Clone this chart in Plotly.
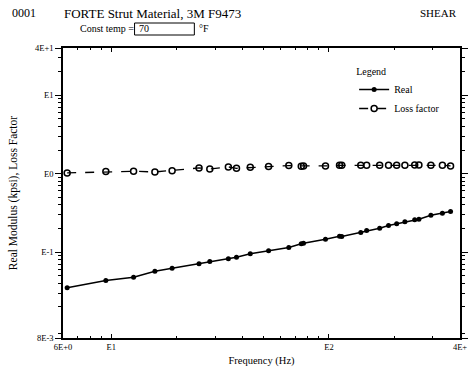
import plotly.graph_objects as go

# ---- data ----
freq_hz = [6.27, 9.44, 12.66, 15.86, 19.03, 25.3, 28.35, 34.5, 37.6, 43.5, 52.8, 65.4,
           74.6, 76.4, 96.4, 111.8, 114.5, 140.0, 149.0, 171.0, 187.8, 204.7, 223.3,
           247.7, 259.0, 294.0, 332.0, 362.0]
real_modulus = [0.0350, 0.0433, 0.0477, 0.0569, 0.0622, 0.0707, 0.0757, 0.0819, 0.0859,
                0.0949, 0.1036, 0.1141, 0.1272, 0.1295, 0.1456, 0.1590, 0.1576, 0.1772,
                0.1878, 0.2010, 0.2176, 0.2287, 0.2425, 0.2571, 0.2617, 0.2943, 0.3121,
                0.3281]
loss_factor = [1.02, 1.06, 1.07, 1.05, 1.09, 1.18, 1.148, 1.217, 1.168, 1.203, 1.228,
               1.264, 1.239, 1.254, 1.254, 1.276, 1.276, 1.276, 1.276, 1.276, 1.276, 1.276,
               1.276, 1.291, 1.291, 1.276, 1.276, 1.254]

x_tickvals = [6, 10, 100, 400]
x_ticktext = ["6E+0", "E1", "E2", "4E+"]
x_minor = [7, 8, 9, 20, 30, 40, 50, 60, 70, 80, 90, 200, 300]
y_tickvals = [0.008, 0.1, 1, 10, 40]
y_ticktext = ["8E-3", "E-1", "E0", "E1", "4E+1"]
y_minor = [0.009, 0.02, 0.03, 0.04, 0.05, 0.06, 0.07, 0.08, 0.09,
           0.2, 0.3, 0.4, 0.5, 0.6, 0.7, 0.8, 0.9,
           2, 3, 4, 5, 6, 7, 8, 9, 20, 30]

W, H = 473, 373
L, R, T, B = 63, 5, 48, 35
PW, PH = W - L - R, H - T - B


def px(x):
    return (x - L) / PW


def py(y):
    return (H - B - y) / PH


FONT = "Liberation Serif"

fig = go.Figure()
fig.add_trace(go.Scatter(
    x=freq_hz, y=real_modulus, name="Real", mode="lines+markers",
    line=dict(color="black", width=1.5),
    marker=dict(symbol="circle", size=5, color="black"),
))
fig.add_trace(go.Scatter(
    x=freq_hz, y=loss_factor, name="Loss factor", mode="lines+markers",
    line=dict(color="black", width=1.3, dash="dash"),
    marker=dict(symbol="circle-open", size=6, color="black", line=dict(width=1.5)),
))

axis_common = dict(showgrid=False, zeroline=False, showline=True, linecolor="black",
                   linewidth=1.5, mirror="ticks", tickcolor="black", tickwidth=1,
                   tickfont=dict(family=FONT, size=8.5, color="black"))

fig.update_xaxes(type="log", range=[0.77815, 2.60206], tickmode="array",
                 tickvals=x_tickvals, ticktext=x_ticktext, ticks="inside", ticklen=4,
                 minor=dict(tickmode="array", tickvals=x_minor, ticks="inside",
                            ticklen=2, tickcolor="black", showgrid=False),
                 title=dict(text="Frequency (Hz)", font=dict(family=FONT, size=10.5, color="black"),
                            standoff=6),
                 **axis_common)
fig.update_yaxes(type="log", range=[-2.09691, 1.60206], tickmode="array",
                 tickvals=y_tickvals, ticktext=y_ticktext, ticks="outside", ticklen=6,
                 minor=dict(tickmode="array", tickvals=y_minor, ticks="outside",
                            ticklen=3, tickcolor="black", showgrid=False),
                 title=dict(text="Real Modulus (kpsi), Loss Factor",
                            font=dict(family=FONT, size=11.5, color="black"), standoff=15),
                 **axis_common)

annotations = [
    dict(x=px(9), y=py(13), text="0001", xanchor="left", size=12),
    dict(x=px(62), y=py(13), text="FORTE Strut Material, 3M F9473", xanchor="left", size=13),
    dict(x=px(467), y=py(13), text="SHEAR", xanchor="right", size=11),
    dict(x=px(78), y=py(29), text="Const temp =", xanchor="left", size=10),
    dict(x=px(138), y=py(29), text="70", xanchor="left", size=10),
    dict(x=px(200), y=py(29), text="°F", xanchor="left", size=10),
]
for a in annotations:
    s = a.pop("size")
    a.update(xref="paper", yref="paper", yanchor="middle", showarrow=False,
             font=dict(family=FONT, size=s, color="black"))
fig.update_layout(annotations=annotations)
fig.add_shape(type="rect", xref="paper", yref="paper",
              x0=px(136), x1=px(197), y0=py(35), y1=py(23),
              line=dict(color="black", width=1))

fig.update_layout(
    width=W, height=H,
    margin=dict(l=L, r=R, t=T, b=B),
    paper_bgcolor="white", plot_bgcolor="white",
    font=dict(family=FONT, size=10, color="black"),
    legend=dict(x=px(360), y=py(62), xanchor="left", yanchor="top",
                title=dict(text="Legend", font=dict(family=FONT, size=10, color="black")),
                font=dict(family=FONT, size=10, color="black"),
                bgcolor="rgba(0,0,0,0)", itemwidth=30, tracegroupgap=0),
    showlegend=True,
)

fig.write_html("out.html", config={"displayModeBar": False},
               post_script="document.body.style.margin='0';document.body.style.overflow='hidden';")
